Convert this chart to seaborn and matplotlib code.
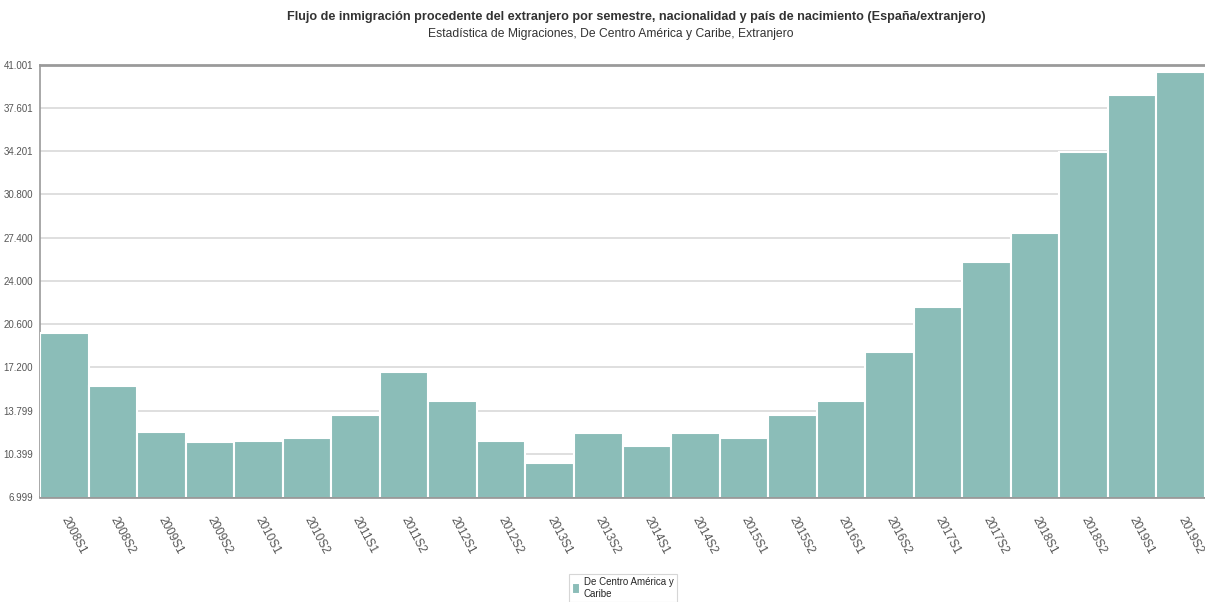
import numpy as np
import pandas as pd
import seaborn as sns
import matplotlib.pyplot as plt
from matplotlib.ticker import FixedLocator

# Datos
periodos = ['2008S1', '2008S2', '2009S1', '2009S2', '2010S1', '2010S2', '2011S1', '2011S2',
            '2012S1', '2012S2', '2013S1', '2013S2', '2014S1', '2014S2', '2015S1', '2015S2',
            '2016S1', '2016S2', '2017S1', '2017S2', '2018S1', '2018S2', '2019S1', '2019S2']
flujo = [19890, 15760, 12100, 11300, 11370, 11660, 13440, 16860,
         14580, 11420, 9670, 12000, 11030, 12000, 11660, 13460,
         14540, 18380, 21910, 25490, 27790, 34150, 38650, 40430]
ticks_y = ['6.999', '10.399', '13.799', '17.200', '20.600', '24.000',
           '27.400', '30.800', '34.201', '37.601', '41.001']
serie = 'De Centro América y\nCaribe'

df = pd.DataFrame({'periodo': periodos, 'flujo': flujo})

sns.set_style('white')
plt.rcParams['font.family'] = ['Liberation Sans Narrow', 'Liberation Sans', 'DejaVu Sans']

fig = plt.figure(figsize=(12.05, 6.02), dpi=100)
ax = fig.add_axes([40 / 1205, 105 / 602, 1165 / 1205, 432.3 / 602])

sns.barplot(data=df, x='periodo', y='flujo', color='#8bbdb8', saturation=1,
            width=1, edgecolor='white', linewidth=1.5, label=serie, ax=ax, zorder=3)

ax.set_ylim(6999, 41001)
ax.set_xlim(-0.5, len(periodos) - 0.5)
ax.yaxis.set_major_locator(FixedLocator(np.linspace(6999, 41001, len(ticks_y))))
ax.set_yticklabels(ticks_y)
ax.grid(axis='y', color='#d9d9d9', linewidth=1.2, zorder=0)
ax.set_axisbelow(True)

ax.set_xticks(range(len(periodos)))
ax.set_xticklabels(periodos, rotation=-62, ha='left', va='center', rotation_mode='anchor')
ax.xaxis.set_minor_locator(FixedLocator(np.arange(0.5, len(periodos) - 0.5, 1)))
ax.tick_params(axis='x', which='major', length=0, pad=15, labelsize=8.5, labelcolor='#555555')
ax.tick_params(axis='x', which='minor', length=4, color='#bbbbbb', width=1)
ax.tick_params(axis='y', length=3, color='#aaaaaa', labelsize=7, labelcolor='#555555', pad=2)
ax.set_xlabel('')
ax.set_ylabel('')

for lado in ['left', 'top', 'bottom']:
    ax.spines[lado].set_visible(True)
    ax.spines[lado].set_color('#9a9a9a')
ax.spines['left'].set_linewidth(1.2)
ax.spines['top'].set_linewidth(2)
ax.spines['bottom'].set_linewidth(2)
ax.spines['right'].set_visible(False)

fig.text(636 / 1205, 1 - 17 / 602, 'Flujo de inmigración procedente del extranjero por semestre, nacionalidad y país de nacimiento (España/extranjero)',
         ha='center', va='center', fontsize=9.1, fontweight='bold', color='#333333')
fig.text(611 / 1205, 1 - 34 / 602, 'Estadística de Migraciones, De Centro América y Caribe, Extranjero',
         ha='center', va='center', fontsize=8.7, color='#333333')

leg = ax.legend(loc='upper center', bbox_to_anchor=(0.517, 0.054), bbox_transform=fig.transFigure,
                fontsize=7, frameon=True, handlelength=0.8, handleheight=1.4,
                borderpad=0.3, handletextpad=0.4, fancybox=False)
leg.get_frame().set_edgecolor('#cccccc')
leg.get_frame().set_linewidth(0.8)

fig.savefig('out.png', dpi=100)
